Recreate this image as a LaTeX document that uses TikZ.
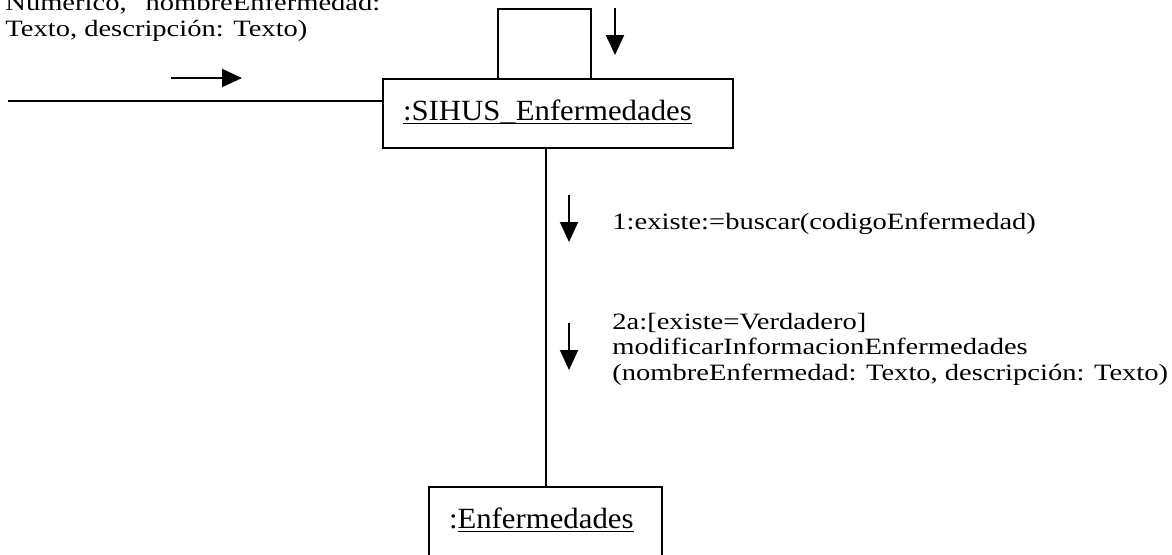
\documentclass[tikz,border=0pt]{standalone}
\usepackage{fontspec}
\setmainfont{Liberation Serif}
\newfontfamily\msgfamily[FakeStretch=1.22]{Liberation Serif}
\newfontfamily\objfamily[FakeStretch=1.05]{Liberation Serif}
\usepackage{tikz}
\usetikzlibrary{arrows.meta,calc}
\newcommand{\objul}[1]{\setbox0\hbox{#1}\rlap{\rule[-2.2pt]{\wd0}{0.8pt}}\box0}
\newcommand{\msglines}[1]{\vtop{\lineskiplimit=-\maxdimen\baselineskip=12.75pt #1}}
\newcommand{\msgfont}{\msgfamily\fontsize{11.7pt}{12.75pt}\selectfont}
\newcommand{\objfont}{\objfamily\fontsize{14.65pt}{18pt}\selectfont}
\tikzset{
  wire/.style={line width=1pt},
  msgarrow/.style={line width=1pt, -{Triangle[length=10pt,width=9pt]}},
  objbox/.style={draw, line width=1pt, font=\objfont, align=left,
    inner xsep=10pt, inner ysep=0pt, text height=11pt, text depth=4.5pt,
    minimum height=34.5pt},
  msglabel/.style={font=\msgfont, anchor=base west, inner sep=0pt}
}
\begin{document}
\begin{tikzpicture}[x=0.5pt,y=-0.5pt]
\useasboundingbox (0,0) rectangle (1172,554);
\node[objbox, minimum width=175pt, text width=155pt] (sihus) at (558,113.5) {\objul{:SIHUS\_Enfermedades}};
\node[objbox, minimum width=116.5pt, text width=96.5pt] (enf) at (545.5,521.5) {:\objul{Enfermedades}};
\coordinate (src) at (8,101);
\draw[wire] (src) -- (src -| sihus.west);
\draw[wire] (sihus.south -| enf.north) -- (enf.north);
% self message loop
\draw[wire] ([xshift=58pt]sihus.north west) -- ++(0,-69) -| ([xshift=104.5pt]sihus.north west);
\foreach \x/\ya/\yb in {615/8/55, 569/195/242, 569/323/370}
    \draw[msgarrow] (\x,\ya) -- (\x,\yb);
\draw[msgarrow] (171,78) -- (242,78);
\node[msglabel] (msgin) at (5,10.5) {\msglines{\hbox{Numerico,\hspace{9.5pt}nombreEnfermedad:}\hbox{Texto, descripción: Texto)}}};
\node[msglabel] (msgbuscar) at (612,229) {1:existe:=buscar(codigoEnfermedad)};
\node[msglabel] (msgmodificar) at (612,329) {\msglines{\hbox{2a:[existe=Verdadero]}\hbox{modificarInformacionEnfermedades}\hbox{(nombreEnfermedad: Texto, descripción: Texto)}}};
\end{tikzpicture}
\end{document}
